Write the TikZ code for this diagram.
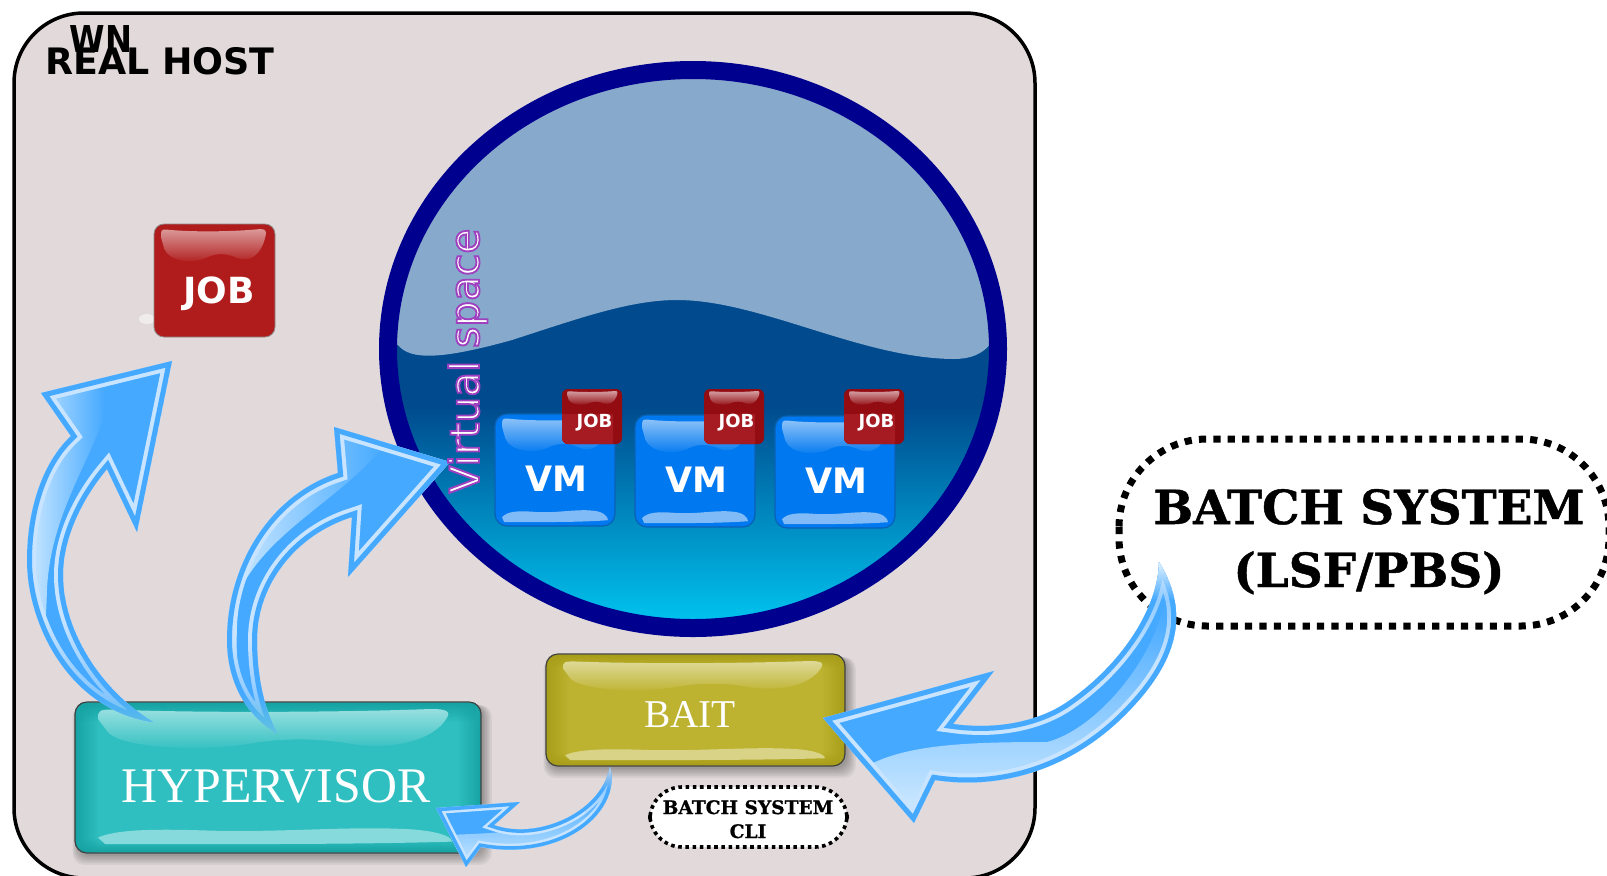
\documentclass[tikz,border=0pt]{standalone}
\usepackage{fontspec}
\setmainfont{DejaVu Sans}
\newfontfamily\hostfont{DejaVu Sans}
\newfontfamily\serifbold[UprightFont=* Bold,FakeBold=1]{DejaVu Serif}
\newfontfamily\boxfont{Liberation Serif}
\newfontfamily\outlinefont[FakeBold=4.5]{DejaVu Sans}
\usetikzlibrary{fadings}
\definecolor{hostbg}{HTML}{E2DADA}
\definecolor{ringblue}{HTML}{00008F}
\definecolor{seatop}{HTML}{004A8D}
\definecolor{seabot}{HTML}{00C8F2}
\definecolor{sealight}{HTML}{87A9CB}
\definecolor{jobred}{HTML}{B01C1C}
\definecolor{jobsmall}{HTML}{920C12}
\definecolor{joblap}{HTML}{A61B22}
\definecolor{vmblue}{HTML}{0078F0}
\definecolor{vmedge}{HTML}{0A62B4}
\definecolor{hypmid}{HTML}{30BFC0}
\definecolor{hypedge}{HTML}{16A2A3}
\definecolor{baitmid}{HTML}{BDB330}
\definecolor{baitedge}{HTML}{A79D18}
\definecolor{arrowblue}{HTML}{45A9FF}
\definecolor{arrowpale}{HTML}{C8E4FF}
\definecolor{arrowglow}{HTML}{D8EEFF}
\definecolor{tailtint}{HTML}{6FCFD0}
\pgfdeclareverticalshading{seagrad}{100bp}{color(0bp)=(seabot); color(25bp)=(seabot); color(45bp)=(seatop); color(100bp)=(seatop)}
\pgfdeclarehorizontalshading{hypshade}{100bp}{color(0bp)=(hypedge); color(25bp)=(hypedge); color(28bp)=(hypmid); color(72bp)=(hypmid); color(75bp)=(hypedge); color(100bp)=(hypedge)}
\pgfdeclarehorizontalshading{baitshade}{100bp}{color(0bp)=(baitedge); color(25bp)=(baitedge); color(29bp)=(baitmid); color(71bp)=(baitmid); color(75bp)=(baitedge); color(100bp)=(baitedge)}
\tikzset{every node/.style={inner sep=0pt}}
% gloss shapes, unit square, placed by origin and size
\newcommand\glosstop[6]{\shade[shift={(#1,#2)},xscale=#3,yscale=#4,top color=#5,bottom color=#6]
 (0,.25) .. controls (0,.03) and (0,0) .. (.06,.02) .. controls (.3,.1) and (.7,.08) .. (.94,0)
 .. controls (1,0) and (1,.1) .. (.97,.4) .. controls (.92,.85) and (.82,1) .. (.72,.88)
 .. controls (.62,.72) and (.52,.72) .. (.42,.88) .. controls (.3,1.05) and (.08,1) .. (.03,.6) -- cycle;}
\newcommand\glossbot[5]{\fill[shift={(#1,#2)},xscale=#3,yscale=#4,#5]
 (0,.6) .. controls (.05,.1) and (.15,.05) .. (.3,.15) .. controls (.5,.3) and (.7,-.1) .. (.85,.05)
 .. controls (.95,.1) and (1,.5) .. (1,.85) .. controls (.7,1.05) and (.3,1) .. (.02,1) -- cycle;}
\newcommand\softshadow[4]{\foreach \g in {11,9,7,5,3,1}{\fill[black,opacity=.055,rounded corners=6pt]
 (#1+3-\g*.5,#2+3) rectangle (#3+2+\g*.8,#4+2+\g*.9);}}
% a VM with its job; #1 x, #2 y, #3 name, #4 and #5 offset of the job
\newcommand\vmunit[5]{\begin{scope}[shift={(#1,#2)}]
 \draw[vmedge,fill=vmblue,line width=.6pt,rounded corners=6pt] (0,0) rectangle (120,112);
 \glosstop{7}{4}{108}{34}{vmhi}{vmblue}
 \glossbot{7}{96}{106}{12}{vmlow}
 \begin{scope}[shift={(#4,#5)}]
 \fill[jobsmall,rounded corners=3pt] (67,-25) rectangle (127,30);
 \begin{scope}\clip (-10,0) rectangle (118,112);\fill[joblap,rounded corners=3pt] (67,-10) rectangle (127,30);\end{scope}
 \glosstop{72}{-23}{51}{14}{jobhi}{jobsmall}
 \node[text=white,font=\hostfont\bfseries\fontsize{9}{9}\selectfont,anchor=base] (job#3) at (99.5,13.5) {JOB};
 \end{scope}
 \node[text=white,font=\hostfont\bfseries\fontsize{17.5}{17.5}\selectfont,anchor=base] (vm#3) at (61,77.5) {VM};
\end{scope}}
% glossy arrow: #1 path, #2 highlight, #3 outer band, #4 pale band, #5 drawn over the bands
\newcommand\glossarrow[5]{\begin{scope}
 \clip #1;
 \fill[arrowblue] #1;
 #2
 \draw[arrowpale,line width=#4,miter limit=20] #1;
 \draw[arrowblue,line width=#3,miter limit=20] #1;
 #5
\end{scope}}
\colorlet{vmhi}{vmblue!45!white}
\colorlet{vmlow}{vmblue!50!white}
\colorlet{jobhi}{jobsmall!40!white}
\begin{document}
\begin{tikzpicture}[x=.5pt,y=-.5pt]
\useasboundingbox (0,0) rectangle (1607,875);
\clip (0,0) rectangle (1607,875);
\fill[white] (0,0) rectangle (1607,875);
% host
\draw[black,fill=hostbg,line width=1.75pt,rounded corners=35pt] (14,13) rectangle (1035,878);
\node[font=\hostfont\bfseries\fontsize{18.2}{18.2}\selectfont,anchor=base west] (host) at (45,74) {REAL HOST};
\node[font=\hostfont\bfseries\fontsize{18.5}{18.5}\selectfont,xscale=.87,anchor=base] (wn) at (101,52) {WN};
% virtual space
\shade[shading=seagrad] (693,349) ellipse [x radius=308,y radius=282];
\begin{scope}
 \clip (693,349) ellipse [x radius=308,y radius=282];
 \fill[sealight] (380,340) -- (398,345) .. controls (410,360) and (440,360) .. (512,340)
  .. controls (580,318) and (630,300) .. (677,300) .. controls (760,300) and (860,358) .. (953,359)
  .. controls (975,359) and (988,352) .. (1000,330) -- (1010,50) -- (380,50) -- cycle;
\end{scope}
\draw[ringblue,line width=9pt] (693,349) ellipse [x radius=305,y radius=279];
\vmunit{495}{414}{a}{0}{0}
\vmunit{635}{415}{b}{2}{-1}
\vmunit{775}{416}{c}{2}{-2}
% real job
\fill[hostbg!50!white] (147,319) ellipse [x radius=8,y radius=5];
\draw[black!45,fill=jobred,line width=.4pt,rounded corners=5pt] (154,224) rectangle (275,337);
\colorlet{bigjobhi}{jobred!45!white}
\glosstop{161}{229}{106}{33}{bigjobhi}{jobred}
\node[text=white,font=\hostfont\bfseries\fontsize{18}{18}\selectfont,anchor=base] (job) at (219,303) {JOB};
% hypervisor
\softshadow{75}{702}{481}{853}
\shade[shading=hypshade,rounded corners=6pt] (75,702) rectangle (481,853);
\fill[hypedge,path fading=south] (80,703) rectangle (476,722);
\fill[hypedge,path fading=north] (80,838) rectangle (476,852);
\draw[black!75,line width=.6pt,rounded corners=6pt] (75,702) rectangle (481,853);
\colorlet{hyphi}{hypmid!50!white}
\glosstop{98}{709}{354}{40}{hyphi}{hypmid}
\glossbot{98}{828}{354}{16}{hypmid!58!white}
\node[text=white,font=\boxfont\fontsize{24.9}{24.9}\selectfont,anchor=base] (hyp) at (276,802) {HYPERVISOR};
% bait
\softshadow{546}{654}{845}{766}
\shade[shading=baitshade,rounded corners=6pt] (546,654) rectangle (845,766);
\fill[baitedge,path fading=south] (551,655) rectangle (840,668);
\fill[baitedge,path fading=north] (551,752) rectangle (840,765);
\draw[black!75,line width=.6pt,rounded corners=6pt] (546,654) rectangle (845,766);
\colorlet{baithi}{baitmid!50!white}
\glosstop{563}{661}{262}{30}{baithi}{baitmid}
\glossbot{565}{748}{260}{12}{baitmid!58!white}
\node[text=white,font=\boxfont\fontsize{19.7}{19.7}\selectfont,anchor=base] (bait) at (690,727) {BAIT};
% batch system CLI
\draw[black,fill=white,line width=1.8pt,dash pattern=on 1.8pt off 1.8pt,rounded corners=16pt] (650,787) rectangle (847,847);
\node[font=\serifbold\fontsize{9.3}{9.3}\selectfont,anchor=base] (cli1) at (748,814) {BATCH SYSTEM};
\node[font=\serifbold\fontsize{9.3}{9.3}\selectfont,anchor=base] (cli2) at (748,838) {CLI};
% batch system
\draw[black,fill=white,line width=3.5pt,dash pattern=on 3.6pt off 3.6pt,rounded corners=44pt] (1119,439) rectangle (1609,626);
\node[font=\serifbold\fontsize{23.5}{23.5}\selectfont,anchor=base] (batch1) at (1369,524) {BATCH SYSTEM};
\node[font=\serifbold\fontsize{23.5}{23.5}\selectfont,anchor=base] (batch2) at (1369,587) {(LSF/PBS)};
% arrow: hypervisor to job
\glossarrow{(71,436) .. controls (40,465) and (27,515) .. (27,560) .. controls (27,625) and (70,710) .. (153,722)
 .. controls (100,690) and (63,630) .. (63,575) .. controls (63,535) and (85,495) .. (107,469)
 -- (137,532) -- (172,361) -- (41,393) -- cycle}
 {\shade[left color=arrowglow,right color=arrowblue] (40,390) -- (105,385) -- (103,420) .. controls (85,470) and (50,520) .. (47,590) .. controls (46,620) and (44,640) .. (48,670) -- (20,640) -- (20,450) -- cycle;}
 {5pt}{9pt}
 {\fill[arrowblue,path fading=north,opacity=.75] (10,620) rectangle (170,735);
  \fill[tailtint,path fading=north,opacity=.8] (60,695) rectangle (170,735);}
% arrow: hypervisor to virtual space
\glossarrow{(338,473) .. controls (270,495) and (227,565) .. (227,640) .. controls (227,680) and (245,715) .. (277,733)
 .. controls (262,705) and (257,670) .. (257,640) .. controls (257,585) and (295,535) .. (352,517)
 -- (348,577) -- (450,462) -- (334,427) -- cycle}
 {\shade[left color=arrowglow,right color=arrowblue] (345,425) -- (385,445) .. controls (340,500) and (270,530) .. (240,590) .. controls (236,620) and (236,650) .. (238,680) -- (215,690) -- (215,560) -- (300,460) -- cycle;}
 {5pt}{9pt}
 {\fill[arrowblue,path fading=north,opacity=.75] (215,640) rectangle (290,738);
  \fill[tailtint,path fading=north,opacity=.8] (220,695) rectangle (290,738);}
% arrow: batch system to bait
\glossarrow{(1159,562) .. controls (1158,610) and (1120,665) .. (1070,700) .. controls (1040,722) and (996,730) .. (953,724)
 -- (994,671) -- (823,718) -- (914,823) -- (935,780) .. controls (1000,790) and (1070,770) .. (1125,715) .. controls (1170,670) and (1195,620) .. (1159,562) -- cycle}
 {\shade[top color=arrowblue,bottom color=arrowglow] (860,770) .. controls (900,745) and (960,742) .. (1047,742) .. controls (1095,730) and (1155,660) .. (1164,600) -- (1190,600) -- (1190,800) -- (860,830) -- cycle;}
 {5pt}{9pt}
 {\fill[arrowblue,path fading=south,opacity=.7] (1120,555) rectangle (1190,660);
  \fill[white,path fading=south] (1140,555) rectangle (1190,600);}
% arrow: bait to hypervisor
\glossarrow{(610,767) .. controls (622,810) and (565,862) .. (481,847) -- (466,867) -- (436,808) -- (520,802) -- (494,825)
 .. controls (535,840) and (600,815) .. (610,767) -- cycle}
 {\shade[top color=arrowblue,bottom color=arrowglow] (450,835) .. controls (500,832) and (560,835) .. (605,790) -- (625,790) -- (600,875) -- (450,875) -- cycle;}
 {3.5pt}{6pt}
 {\fill[arrowblue,path fading=south,opacity=.7] (585,762) rectangle (625,820);
  \fill[hostbg,path fading=south] (595,762) rectangle (625,790);}
% virtual space label
\node[font=\outlinefont\fontsize{20.3}{20.3}\selectfont,rotate=90,anchor=base] (vs) at (479,361) {\special{pdf:bcolor [1 1 1] [0.62 0.25 0.75]}Virtual space\special{pdf:ecolor}};
\end{tikzpicture}
\end{document}
